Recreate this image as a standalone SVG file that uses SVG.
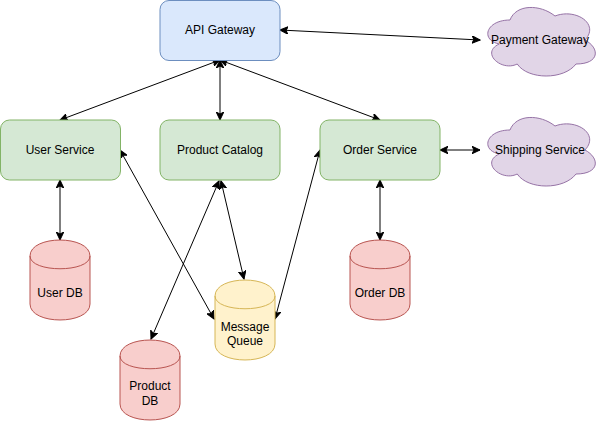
<svg xmlns="http://www.w3.org/2000/svg" width="601" height="421" viewBox="0 0 601 421">
<style>
text{font-family:"Liberation Sans",Arial,Helvetica,sans-serif;font-size:12px;fill:#000;text-anchor:middle}
.blue{fill:#dae8fc;stroke:#6c8ebf;stroke-width:1}
.green{fill:#d5e8d4;stroke:#82b366;stroke-width:1}
.red{fill:#f8cecc;stroke:#b85450;stroke-width:1}
.yellow{fill:#fff2cc;stroke:#d6b656;stroke-width:1}
.purple{fill:#e1d5e7;stroke:#9673a6;stroke-width:1}
.edge{fill:none;stroke:#000;stroke-width:1;marker-start:url(#arr);marker-end:url(#arr)}
</style>
<defs>
<marker id="arr" viewBox="-8 -4 9 8" refX="0" refY="0" markerWidth="9" markerHeight="8" markerUnits="userSpaceOnUse" orient="auto-start-reverse">
<path d="M0,0 L-8,-3.8 L-6,0 L-8,3.8 Z" fill="#000" stroke="#000" stroke-width="1" stroke-linejoin="miter"/>
</marker>
</defs>
<g id="connectors">
<line class="edge" x1="280" y1="30" x2="480" y2="40"/>
<line class="edge" x1="220" y1="60" x2="60" y2="120"/>
<line class="edge" x1="220" y1="60" x2="220" y2="120"/>
<line class="edge" x1="220" y1="60" x2="380" y2="120"/>
<line class="edge" x1="440" y1="150" x2="480" y2="150"/>
<line class="edge" x1="60" y1="180" x2="60" y2="240"/>
<line class="edge" x1="380" y1="180" x2="380" y2="240"/>
<line class="edge" x1="219" y1="181" x2="151" y2="339"/>
<line class="edge" x1="221" y1="181" x2="244" y2="279"/>
<line class="edge" x1="120" y1="150" x2="214" y2="319"/>
<line class="edge" x1="320" y1="150" x2="275" y2="319"/>
</g>
<g id="api-gateway">
<rect class="blue" x="160" y="0.5" width="120" height="60" rx="9"/>
<text x="220" y="34">API Gateway</text>
</g>
<g id="user-service">
<rect class="green" x="0.5" y="120" width="120" height="60" rx="9"/>
<text x="60" y="154">User Service</text>
</g>
<g id="product-catalog">
<rect class="green" x="160" y="120" width="120" height="60" rx="9"/>
<text x="220" y="154">Product Catalog</text>
</g>
<g id="order-service">
<rect class="green" x="320" y="120" width="120" height="60" rx="9"/>
<text x="380" y="154">Order Service</text>
</g>
<g id="payment-gateway">
<path class="purple" d="M510 20 C486 20 480 40 499.2 44 C480 52.8 501.6 72 517.2 64 C528 80 564 80 576 64 C600 64 600 48 585 40 C600 24 576 8 555 16 C540 4 516 4 510 20 Z"/>
<text x="540" y="44">Payment Gateway</text>
</g>
<g id="shipping-service">
<path class="purple" d="M510 130 C486 130 480 150 499.2 154 C480 162.8 501.6 182 517.2 174 C528 190 564 190 576 174 C600 174 600 158 585 150 C600 134 576 118 555 126 C540 114 516 114 510 130 Z"/>
<text x="540" y="154">Shipping Service</text>
</g>
<g id="user-db">
<path class="red" d="M30 256 C30 234.7 90 234.7 90 256 L90 304 C90 325.3 30 325.3 30 304 Z"/>
<path class="red" style="fill:none" d="M30 256 C30 273 90 273 90 256"/>
<text x="60" y="297">User DB</text>
</g>
<g id="order-db">
<path class="red" d="M350 256 C350 234.7 410 234.7 410 256 L410 304 C410 325.3 350 325.3 350 304 Z"/>
<path class="red" style="fill:none" d="M350 256 C350 273 410 273 410 256"/>
<text x="380" y="297">Order DB</text>
</g>
<g id="message-queue">
<path class="yellow" d="M215 296 C215 274.7 275 274.7 275 296 L275 344 C275 365.3 215 365.3 215 344 Z"/>
<path class="yellow" style="fill:none" d="M215 296 C215 313 275 313 275 296"/>
<text x="245" y="330.5">Message</text>
<text x="245" y="345">Queue</text>
</g>
<g id="product-db">
<path class="red" d="M120 356 C120 334.7 180 334.7 180 356 L180 404 C180 425.3 120 425.3 120 404 Z"/>
<path class="red" style="fill:none" d="M120 356 C120 373 180 373 180 356"/>
<text x="150" y="390">Product</text>
<text x="150" y="404.5">DB</text>
</g>
</svg>
